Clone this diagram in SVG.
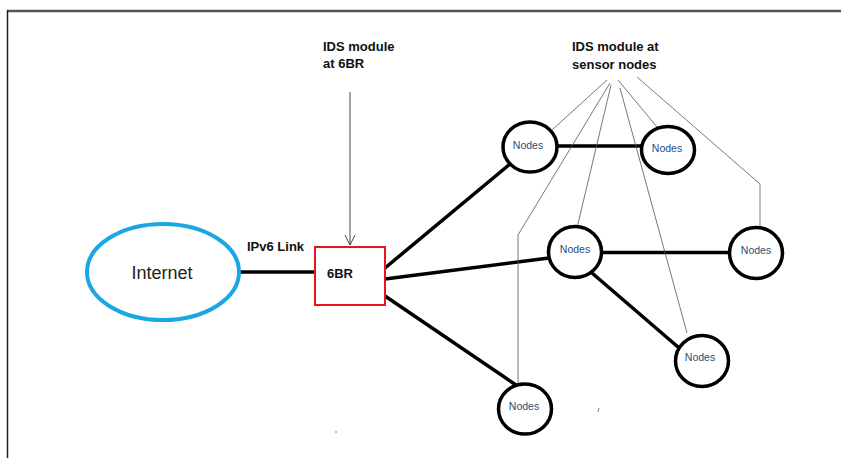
<svg xmlns="http://www.w3.org/2000/svg" width="841" height="458" viewBox="0 0 841 458">
<defs>
<style>
.lbl{font-family:"Liberation Sans",Arial,sans-serif;font-weight:bold;font-size:13px;fill:#111}
.node circle,.node ellipse{fill:#fff;stroke:#000;stroke-width:3.5}
.node text{font-family:"Liberation Sans",Arial,sans-serif;font-size:10.5px;fill:#1f4e79;text-anchor:middle;dominant-baseline:central}
.thick{stroke:#000;stroke-width:3.5;fill:none;stroke-linecap:round}
.thin{stroke:#555;stroke-width:0.8;fill:none}
</style>
<marker id="open" viewBox="0 0 12 12" refX="11" refY="6" markerWidth="12" markerHeight="12" markerUnits="userSpaceOnUse" orient="auto">
<path d="M1,1 L11,6 L1,11" fill="none" stroke="#333" stroke-width="0.9"/>
</marker>
</defs>
<rect width="841" height="458" fill="#fff"/>
<g id="frame">
<line x1="7" y1="11" x2="841" y2="11" stroke="#555" stroke-width="2.5"/>
<line x1="7.5" y1="10" x2="7.5" y2="458" stroke="#222" stroke-width="1.5"/>
</g>
<g id="connectors">
<line class="thick" x1="240" y1="272" x2="315" y2="272"/>
<line class="thick" x1="385" y1="268" x2="510" y2="164"/>
<line class="thick" x1="385" y1="279" x2="549" y2="258"/>
<line class="thick" x1="385" y1="296" x2="516" y2="385"/>
<line class="thick" x1="557" y1="146" x2="642" y2="146"/>
<line class="thick" x1="602" y1="252.5" x2="730" y2="252.5"/>
<line class="thick" x1="592" y1="273" x2="678" y2="347"/>
<line x1="350" y1="92" x2="350" y2="245" stroke="#333" stroke-width="0.9" marker-end="url(#open)"/>
<polyline class="thin" points="607,80 552,130"/>
<polyline class="thin" points="610,83 518,235 518,383"/>
<polyline class="thin" points="611,85 577,228"/>
<polyline class="thin" points="620,88 687,333"/>
<polyline class="thin" points="618,80 657,127"/>
<polyline class="thin" points="637,77 760,184 760,228"/>
</g>
<g id="internet">
<ellipse cx="163" cy="272" rx="76" ry="48" fill="#fff" stroke="#1ba7e3" stroke-width="4"/>
<text x="162" y="279" font-family="'Liberation Sans',Arial,sans-serif" font-size="18" fill="#222" text-anchor="middle">Internet</text>
</g>
<g id="ipv6-link">
<text class="lbl" x="247" y="251" font-size="12.5">IPv6 Link</text>
</g>
<g id="br6">
<rect x="315" y="247" width="70" height="58" fill="#fff" stroke="#e8141c" stroke-width="2"/>
<text class="lbl" x="327" y="278">6BR</text>
</g>
<g id="ids-6br">
<text class="lbl" x="323" y="51">IDS module</text>
<text class="lbl" x="323" y="68">at 6BR</text>
</g>
<g id="ids-sensor">
<text class="lbl" x="572" y="51">IDS module at</text>
<text class="lbl" x="572" y="69">sensor nodes</text>
</g>
<g id="n1" class="node"><ellipse cx="530" cy="147" rx="27" ry="25"/><text x="528" y="145">Nodes</text></g>
<g id="n2" class="node"><ellipse cx="668" cy="150" rx="26.5" ry="23.5"/><text x="667" y="148">Nodes</text></g>
<g id="n3" class="node"><ellipse cx="575" cy="252" rx="26.5" ry="25.5"/><text x="575" y="249">Nodes</text></g>
<g id="n4" class="node"><ellipse cx="756" cy="253" rx="26.5" ry="25.5"/><text x="756" y="250">Nodes</text></g>
<g id="n5" class="node"><ellipse cx="702" cy="361" rx="26.5" ry="25.5"/><text x="700" y="357">Nodes</text></g>
<g id="n6" class="node"><ellipse cx="525" cy="409" rx="26.5" ry="25"/><text x="524" y="406">Nodes</text></g>
<g id="specks" stroke="#555" stroke-width="0.8">
<line x1="598" y1="412" x2="599" y2="408"/>
<line x1="336" y1="431" x2="336" y2="433"/>
</g>
</svg>
